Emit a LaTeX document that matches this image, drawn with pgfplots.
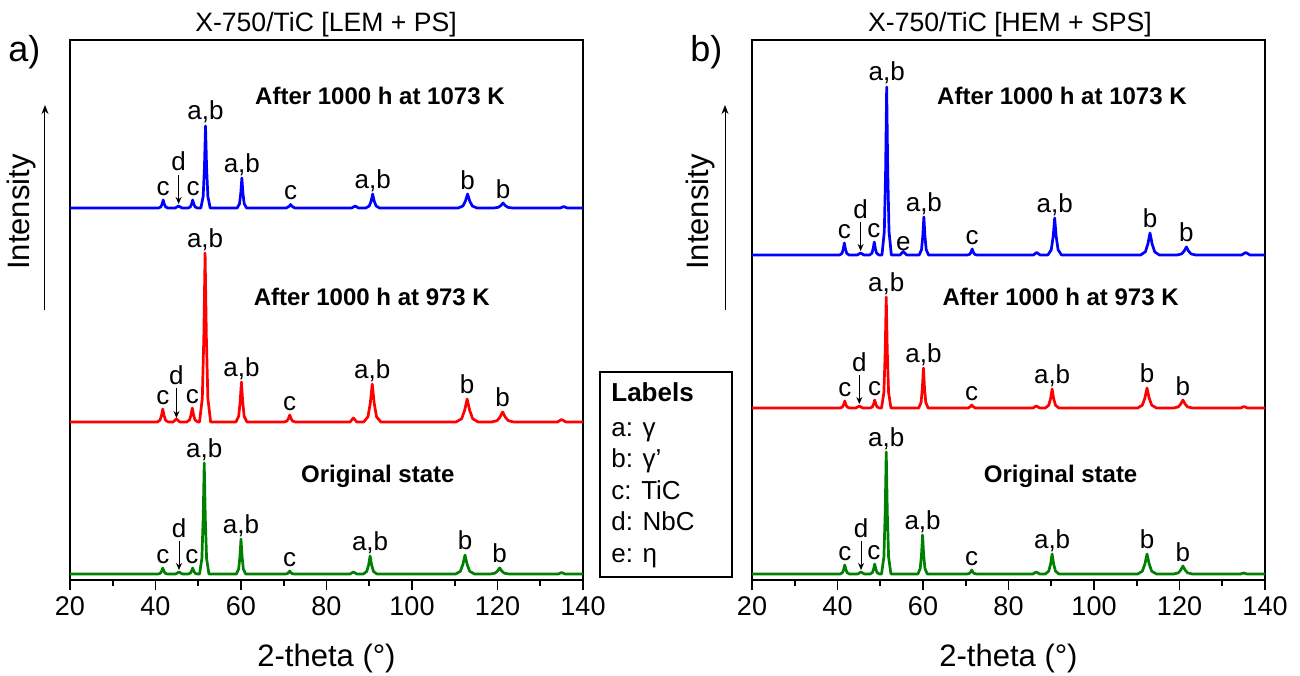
\documentclass[border=0pt]{standalone}
\usepackage{pgfplots}
\pgfplotsset{compat=1.18}
\usepackage{fontspec}
\setmainfont{Liberation Sans}
\usetikzlibrary{arrows.meta}

\definecolor{xblue}{RGB}{0,0,255}
\definecolor{xred}{RGB}{255,0,0}
\definecolor{xgreen}{RGB}{0,128,0}

\newcommand\lbl{\fontsize{13}{15}\selectfont}
\newcommand\st{\fontsize{12}{14}\selectfont\bfseries}
% peak label: x, baseline y, text
\newcommand\pk[3]{\node[anchor=base,inner sep=0pt,font=\lbl] at (axis cs:#1,#2) {#3};}
% d label with arrow: x, label baseline, arrow start, arrow tip
\newcommand\dd[4]{\node[anchor=base,inner sep=0pt,font=\lbl] at (axis cs:#1,#2) {d};
  \draw[line width=0.5pt,-{Stealth[length=3.5pt,width=3pt]}] (axis cs:#1,#3) -- (axis cs:#1,#4);}

\pgfplotsset{xrd/.style={
  scale only axis, width=256.5pt, height=270pt,
  xmin=20, xmax=140, ymin=0, ymax=540,
  xtick={20,40,...,140}, minor x tick num=1,
  ytick=\empty, xtick pos=bottom, tick align=outside,
  major tick length=5pt, minor tick length=3pt,
  axis line style={line width=0.8pt},
  every tick/.style={black,line width=0.8pt},
  tick label style={font=\fontsize{13.5}{16}\selectfont},
  /pgf/number format/assume math mode=true,
  xlabel={2-theta (°)},
  xlabel style={font=\fontsize{15.5}{18}\selectfont, at={(axis description cs:0.5,0)}, anchor=center, yshift=-39pt},
  clip=false,
  every axis plot/.append style={line width=1.35pt, line join=round, no marks},
}}

\begin{document}
\begin{tikzpicture}
\path[use as bounding box] (-35pt,-47.5pt) rectangle (615pt,290pt);

% ---------------- panel a ----------------
\begin{axis}[xrd, at={(0pt,0pt)}, anchor=south west]
% original state
\addplot[xgreen] coordinates {(20,6)
 (40.6,6) (41.15,6.8) (41.45,9) (41.7,12) (41.95,9) (42.25,6.8) (42.8,6)
 (44.7,6) (45.5,8) (46.3,6)
 (47.6,6) (48.15,6.8) (48.45,9) (48.7,12) (48.95,9) (49.25,6.8) (49.8,6)
 (50.3,6) (50.85,21.5) (51.15,61.5) (51.4,117) (51.65,61.5) (51.95,21.5) (52.5,6)
 (58.9,6) (59.45,10.9) (59.75,23.5) (60.0,41) (60.25,23.5) (60.55,10.9) (61.1,6)
 (70.3,6) (70.85,6.4) (71.15,7.5) (71.4,9) (71.65,7.5) (71.95,6.4) (72.5,6)
 (85.5,6) (86.3,8) (87.1,6)
 (88.6,6) (89.4,8.5) (89.85,15) (90.2,24) (90.55,15) (91.0,8.5) (91.8,6)
 (110.2,6) (111.3,8.7) (111.9,15.5) (112.4,25) (112.9,15.5) (113.5,8.7) (114.6,6)
 (118.3,6) (119.4,6.8) (120.0,9) (120.5,12) (121.0,9) (121.6,6.8) (122.7,6)
 (134.2,6) (135,7.5) (135.8,6) (140,6)};
% 973 K
\addplot[xred] coordinates {(20,158)
 (40.4,158) (41.05,159.8) (41.4,164.5) (41.7,171) (42.0,164.5) (42.35,159.8) (43.0,158)
 (44.1,158) (44.9,161) (45.7,158)
 (47.3,158) (47.95,160) (48.3,165) (48.6,172) (48.9,165) (49.25,160) (49.9,158)
 (50.3,158) (50.95,181.7) (51.3,242.5) (51.6,327) (51.9,242.5) (52.25,181.7) (52.9,158)
 (58.8,158) (59.45,163.6) (59.8,178) (60.1,198) (60.4,178) (60.75,163.6) (61.4,158)
 (70.1,158) (70.75,159) (71.1,161.5) (71.4,165) (71.7,161.5) (72.05,159) (72.7,158)
 (85.5,158) (86.3,162) (87.1,158)
 (88.7,158) (89.7,163.3) (90.25,177) (90.7,196) (91.15,177) (91.7,163.3) (92.7,158)
 (110.3,158) (111.6,161.2) (112.3,169.5) (112.9,181) (113.5,169.5) (114.2,161.2) (115.5,158)
 (118.6,158) (119.9,159.4) (120.6,163) (121.2,168) (121.8,163) (122.5,159.4) (123.8,158)
 (134.0,158) (135,160.5) (136,158) (140,158)};
% 1073 K
\addplot[xblue] coordinates {(20,372)
 (40.7,372) (41.25,373.1) (41.55,376) (41.8,380) (42.05,376) (42.35,373.1) (42.9,372)
 (44.6,372) (45.4,374) (46.2,372)
 (47.6,372) (48.15,373.1) (48.45,376) (48.7,380) (48.95,376) (49.25,373.1) (49.8,372)
 (50.6,372) (51.15,383.5) (51.45,413) (51.7,454) (51.95,413) (52.25,383.5) (52.8,372)
 (59.1,372) (59.65,376.2) (59.95,387) (60.2,402) (60.45,387) (60.75,376.2) (61.3,372)
 (70.6,372) (71.3,373.8) (71.6,375.5) (71.9,373.8) (72.6,372)
 (85.9,372) (86.7,374) (87.5,372)
 (89.2,372) (90.0,374) (90.45,379) (90.8,386) (91.15,379) (91.6,374) (92.4,372)
 (110.8,372) (111.9,374) (112.5,379) (113.0,386) (113.5,379) (114.1,374) (115.2,372)
 (119.1,372) (120.2,372.7) (120.8,374.5) (121.3,377) (121.8,374.5) (122.4,372.7) (123.5,372)
 (134.7,372) (135.5,373.5) (136.3,372) (140,372)};
% labels
\pk{41.8}{385}{c} \dd{45.4}{409}{405}{376} \pk{48.8}{385}{c}
\pk{51.7}{460}{a,b} \pk{60.2}{408}{a,b} \pk{71.6}{380}{c}
\pk{90.8}{392}{a,b} \pk{113.0}{391}{b} \pk{121.3}{382}{b}
\pk{41.7}{176}{c} \dd{44.9}{196}{192}{162} \pk{48.6}{177}{c}
\pk{51.6}{333}{a,b} \pk{60.1}{204}{a,b} \pk{71.4}{170}{c}
\pk{90.7}{202}{a,b} \pk{112.9}{187}{b} \pk{121.2}{174}{b}
\pk{41.7}{17}{c} \dd{45.5}{43}{39}{10} \pk{48.5}{17}{c}
\pk{51.4}{123}{a,b} \pk{60.0}{47}{a,b} \pk{71.4}{14}{c}
\pk{90.2}{30}{a,b} \pk{112.4}{31}{b} \pk{120.5}{18}{b}
\node[font=\st] at (axis cs:92.5,484) {After 1000 h at 1073 K};
\node[font=\st] at (axis cs:90.6,283) {After 1000 h at 973 K};
\node[font=\st] at (axis cs:92,104) {Original state};
\end{axis}

% ---------------- panel b ----------------
\begin{axis}[xrd, at={(341pt,0pt)}, anchor=south west]
\addplot[xgreen] coordinates {(20,6)
 (40.6,6) (41.15,7.3) (41.45,10.5) (41.7,15) (41.95,10.5) (42.25,7.3) (42.8,6)
 (44.7,6) (45.5,8) (46.3,6)
 (47.6,6) (48.15,7.4) (48.45,11) (48.7,16) (48.95,11) (49.25,7.4) (49.8,6)
 (50.3,6) (50.85,23) (51.15,67) (51.4,128) (51.65,67) (51.95,23) (52.5,6)
 (58.8,6) (59.35,11.5) (59.65,25.5) (59.9,45) (60.15,25.5) (60.45,11.5) (61.0,6)
 (70.3,6) (70.85,6.6) (71.15,8) (71.4,10) (71.65,8) (71.95,6.6) (72.5,6)
 (85.7,6) (86.5,8) (87.3,6)
 (88.6,6) (89.4,8.8) (89.85,16) (90.2,26) (90.55,16) (91.0,8.8) (91.8,6)
 (110.2,6) (111.3,8.8) (111.9,16) (112.4,26) (112.9,16) (113.5,8.8) (114.6,6)
 (118.6,6) (119.7,7.1) (120.3,10) (120.8,14) (121.3,10) (121.9,7.1) (123.0,6)
 (134.2,6) (135,7) (135.8,6) (140,6)};
\addplot[xred] coordinates {(20,172)
 (40.6,172) (41.15,173) (41.45,175.5) (41.7,179) (41.95,175.5) (42.25,173) (42.8,172)
 (44.3,172) (45.1,174) (45.9,172)
 (47.6,172) (48.15,173.1) (48.45,176) (48.7,180) (48.95,176) (49.25,173.1) (49.8,172)
 (50.3,172) (50.85,187.5) (51.15,227.5) (51.4,283) (51.65,227.5) (51.95,187.5) (52.5,172)
 (59.0,172) (59.55,177.6) (59.85,192) (60.1,212) (60.35,192) (60.65,177.6) (61.2,172)
 (70.6,172) (71.1,173.5) (71.4,175) (71.7,173.5) (72.2,172)
 (85.7,172) (86.5,174) (87.3,172)
 (88.6,172) (89.4,174.7) (89.85,181.5) (90.2,191) (90.55,181.5) (91.0,174.7) (91.8,172)
 (110.2,172) (111.3,174.8) (111.9,182) (112.4,192) (112.9,182) (113.5,174.8) (114.6,172)
 (118.6,172) (119.7,173.1) (120.3,176) (120.8,180) (121.3,176) (121.9,173.1) (123.0,172)
 (134.3,172) (135.1,173.5) (135.9,172) (140,172)};
\addplot[xblue] coordinates {(20,325)
 (40.5,325) (41.05,326.7) (41.35,331) (41.6,337) (41.85,331) (42.15,326.7) (42.7,325)
 (44.6,325) (45.4,327) (46.2,325)
 (47.5,325) (48.05,326.8) (48.35,331.5) (48.6,338) (48.85,331.5) (49.15,326.8) (49.7,325)
 (50.4,325) (50.95,348.5) (51.25,409) (51.5,493) (51.75,409) (52.05,348.5) (52.6,325)
 (54.6,325) (55.4,328.5) (56.2,325)
 (59.1,325) (59.65,330.3) (59.95,344) (60.2,363) (60.45,344) (60.75,330.3) (61.3,325)
 (70.4,325) (70.95,325.8) (71.25,328) (71.5,331) (71.75,328) (72.05,325.8) (72.6,325)
 (85.8,325) (86.6,327.5) (87.4,325)
 (89.2,325) (90.0,330.2) (90.45,343.5) (90.8,362) (91.15,343.5) (91.6,330.2) (92.4,325)
 (110.9,325) (112.0,328.1) (112.6,336) (113.1,347) (113.6,336) (114.2,328.1) (115.3,325)
 (119.4,325) (120.5,326.1) (121.1,329) (121.6,333) (122.1,329) (122.7,326.1) (123.8,325)
 (134.5,325) (135.5,327.5) (136.5,325) (140,325)};
\pk{41.6}{342}{c} \dd{45.4}{362}{358}{329} \pk{48.5}{343}{c}
\pk{51.5}{499}{a,b} \pk{55.4}{330}{e} \pk{60.2}{369}{a,b} \pk{71.5}{336}{c}
\pk{90.8}{368}{a,b} \pk{113.1}{353}{b} \pk{121.6}{339}{b}
\pk{41.7}{184}{c} \dd{45.1}{209}{205}{176} \pk{48.7}{185}{c}
\pk{51.4}{289}{a,b} \pk{60.1}{218}{a,b} \pk{71.4}{180}{c}
\pk{90.2}{197}{a,b} \pk{112.4}{198}{b} \pk{120.8}{185}{b}
\pk{41.7}{20}{c} \dd{45.5}{43}{39}{10} \pk{48.5}{21}{c}
\pk{51.4}{134}{a,b} \pk{59.9}{51}{a,b} \pk{71.4}{15}{c}
\pk{90.2}{32}{a,b} \pk{112.4}{32}{b} \pk{120.8}{19}{b}
\node[font=\st] at (axis cs:92.5,484) {After 1000 h at 1073 K};
\node[font=\st] at (axis cs:92.2,283) {After 1000 h at 973 K};
\node[font=\st] at (axis cs:92.2,104) {Original state};
\end{axis}

% titles, panel letters, intensity arrows
\node[anchor=base,font=\fontsize{13.3}{16}\selectfont] at (128pt,274pt) {X-750/TiC [LEM + PS]};
\node[anchor=base,font=\fontsize{13.3}{16}\selectfont] at (470pt,274pt) {X-750/TiC [HEM + SPS]};
\node[anchor=base west,inner sep=0pt,font=\fontsize{18}{21}\selectfont] at (-31pt,259pt) {a)};
\node[anchor=base west,inner sep=0pt,font=\fontsize{18}{21}\selectfont] at (310pt,259pt) {b)};
\node[rotate=90,font=\fontsize{15.5}{18}\selectfont] at (-24.5pt,184pt) {Intensity};
\node[rotate=90,font=\fontsize{15.5}{18}\selectfont] at (315pt,184pt) {Intensity};
\draw[line width=0.5pt,-{Stealth[length=4.5pt,width=3.5pt]}] (-12.5pt,135pt) -- (-12.5pt,237.5pt);
\draw[line width=0.5pt,-{Stealth[length=4.5pt,width=3.5pt]}] (327.5pt,135pt) -- (327.5pt,237.5pt);

% label box
\draw[line width=0.6pt] (265pt,1.5pt) rectangle (331pt,104pt);
\begin{scope}[every node/.style={anchor=base west,inner sep=0pt,font=\fontsize{13}{15}\selectfont}]
\node at (270.5pt,89.5pt) {\bfseries Labels};
\node at (270.5pt,72pt) {a: γ};
\node at (270.5pt,56.2pt) {b: γ’};
\node at (270.5pt,40.4pt) {c: TiC};
\node at (270.5pt,24.6pt) {d: NbC};
\node at (270.5pt,8.8pt) {e: η};
\end{scope}
\end{tikzpicture}
\end{document}
